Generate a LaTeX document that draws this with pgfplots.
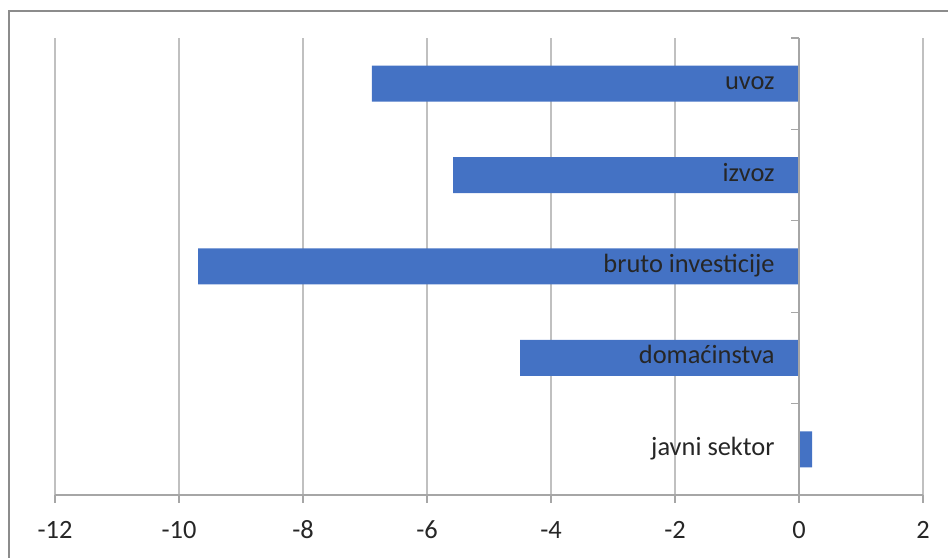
\documentclass[border=0pt]{standalone}
\usepackage{pgfplots}
\pgfplotsset{compat=1.18}
\usepackage{fontspec}
\setmainfont{Carlito}

\definecolor{barblue}{HTML}{4472C4}
\definecolor{gridgray}{HTML}{C0C0C0}
\definecolor{axisgray}{HTML}{A6A6A6}
\definecolor{framegray}{HTML}{8C8C8C}

\tikzset{lab/.style={anchor=base east, inner sep=0pt, text=black!85, font=\fontsize{13.2}{15}\selectfont}}

\begin{document}
\begin{tikzpicture}
\begin{axis}[
    name=ax,
    at={(0,0)}, anchor=south west,
    scale only axis,
    width=434pt, height=228.5pt,
    xmin=-12, xmax=2,
    ymin=0.5, ymax=5.5,
    axis line style={draw=none},
    xtick={-12,-10,...,2},
    xticklabels={-12,-10,-8,-6,-4,-2,0,2},
    ytick=\empty,
    xtick pos=bottom,
    tick align=outside,
    major tick length=4pt,
    tick style={axisgray, line width=0.6pt},
    xmajorgrids,
    grid style={gridgray, line width=0.6pt},
    xticklabel style={font=\fontsize{13.2}{15}\selectfont, text=black!85, anchor=base, yshift=-18pt},
    clip=false,
]
% bars, bottom to top: javni sektor, domacinstva, bruto investicije, izvoz, uvoz
\addplot[xbar, bar width=18pt, fill=barblue, draw=none] coordinates {
    (0.21,1) (-4.5,2) (-9.69,3) (-5.58,4) (-6.89,5)
};
% bottom axis line and vertical axis at zero
\draw[axisgray, line width=0.6pt] (axis cs:-12,0.5) -- (axis cs:2,0.5);
\draw[axisgray, line width=0.6pt] (axis cs:0,0.5) -- (axis cs:0,5.5);
\draw[axisgray, line width=0.6pt] (axis cs:0,1.5) -- ++(-4pt,0pt);
\draw[axisgray, line width=0.6pt] (axis cs:0,2.5) -- ++(-4pt,0pt);
\draw[axisgray, line width=0.6pt] (axis cs:0,3.5) -- ++(-4pt,0pt);
\draw[axisgray, line width=0.6pt] (axis cs:0,4.5) -- ++(-4pt,0pt);
\draw[axisgray, line width=0.6pt] (axis cs:0,5.5) -- ++(-4pt,0pt);
% category labels next to the axis
\node[lab] at ([xshift=-12pt, yshift=-3pt]axis cs:0,1) {javni sektor};
\node[lab] at ([xshift=-12pt, yshift=-3pt]axis cs:0,2) {domaćinstva};
\node[lab] at ([xshift=-12pt, yshift=-3pt]axis cs:0,3) {bruto investicije};
\node[lab] at ([xshift=-12pt, yshift=-3pt]axis cs:0,4) {izvoz};
\node[lab] at ([xshift=-12pt, yshift=-3pt]axis cs:0,5) {uvoz};
\end{axis}
% outer chart frame (right and bottom edges lie outside the picture)
\path[use as bounding box] ([xshift=-27.5pt, yshift=-31.5pt]ax.south west)
    rectangle ([xshift=12.5pt, yshift=19pt]ax.north east);
\draw[framegray, line width=0.7pt]
    ([xshift=-23pt, yshift=-40pt]ax.south west)
    |- ([xshift=20pt, yshift=13.5pt]ax.north east);
\end{tikzpicture}
\end{document}
